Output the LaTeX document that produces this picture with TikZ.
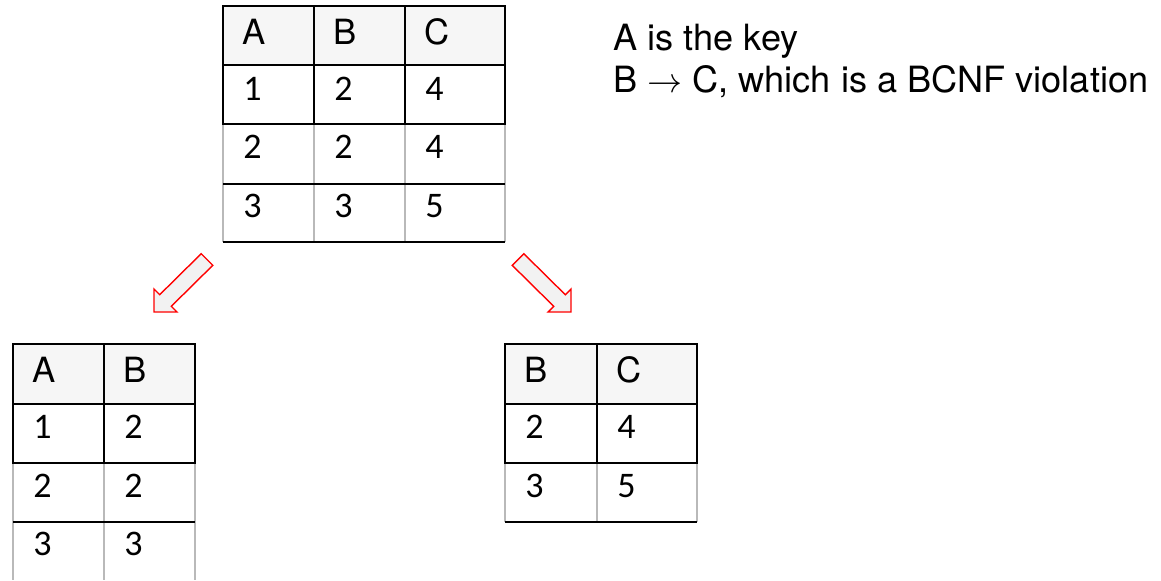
\documentclass[tikz,border=0pt]{standalone}
\usepackage{fontspec}
\usepackage{tikz}
\newfontfamily\heros{TeX Gyre Heros}
\newfontfamily\carlito{Carlito}

\begin{document}
\begin{tikzpicture}[
        x=0.025cm, y=-0.025cm,
        hdr/.style={font=\heros\fontsize{24.7}{28}\selectfont, anchor=base west, inner sep=0pt},
        val/.style={font=\carlito\fontsize{25.6}{30}\selectfont, anchor=base west, inner sep=0pt},
        note/.style={font=\heros\fontsize{25.7}{30}\selectfont, anchor=base west, inner sep=0pt},
        rule/.style={line width=1.4pt, black},
        faint/.style={line width=1.2pt, gray!55},
        blockarrow/.style={draw=red, fill=gray!10, line width=1pt, line join=miter}
    ]
        \useasboundingbox (0,0) rectangle (1161,580);

        % Relation R(A,B,C)
        \fill[gray!7] (223,6) rectangle (505,65);
        \foreach \x in {223, 314, 405, 505} {
            \draw[faint] (\x,124) -- (\x,242);
        }
        \draw[rule] (223,6) rectangle (505,124);
        \draw[rule] (223,65) -- (505,65);
        \draw[rule] (314,6) -- (314,124) (405,6) -- (405,124);
        \draw[rule] (223,184) -- (505,184) (223,242) -- (505,242);

        \foreach \col/\x in {A/223, B/314, C/405} {
            \node[hdr] (top\col) at (\x+19, 44) {\col};
        }
        \foreach \r/\y/\a/\b/\c in {1/100/1/2/4, 2/158/2/2/4, 3/217/3/3/5} {
            \node[val] (top\r a) at (243, \y) {\a};
            \node[val] (top\r b) at (334, \y) {\b};
            \node[val] (top\r c) at (425, \y) {\c};
        }

        % Note on the key and the dependency
        \node[note] (keynote) at (613, 50) {A is the key};
        \node[note] (fdnote) at (613, 92) {B $\rightarrow$ C, which is a BCNF violation};

        % Decomposition arrows
        \draw[blockarrow] (201.2,253.7) -- (212.8,265.3) -- (171.3,306.3) -- (177,312)
            -- (154,312) -- (154,289) -- (159.7,294.7) -- cycle;
        \draw[blockarrow] (523.8,253.7) -- (512.2,265.3) -- (553.7,306.3) -- (548,312)
            -- (571,312) -- (571,289) -- (565.3,294.7) -- cycle;

        % Relation R1(A,B)
        \fill[gray!7] (13,344) rectangle (195,404);
        \foreach \x in {13, 104, 195} {
            \draw[faint] (\x,463) -- (\x,580);
        }
        \draw[rule] (13,344) rectangle (195,463);
        \draw[rule] (13,404) -- (195,404) (104,344) -- (104,463);
        \draw[rule] (13,522) -- (195,522);

        \foreach \col/\x in {A/13, B/104} {
            \node[hdr] (left\col) at (\x+19, 382) {\col};
        }
        \foreach \r/\y/\a/\b in {1/438/1/2, 2/497/2/2, 3/555/3/3} {
            \node[val] (left\r a) at (33, \y) {\a};
            \node[val] (left\r b) at (124, \y) {\b};
        }

        % Relation R2(B,C)
        \fill[gray!7] (505,344) rectangle (697,404);
        \foreach \x in {505, 597, 697} {
            \draw[faint] (\x,463) -- (\x,522);
        }
        \draw[rule] (505,344) rectangle (697,463);
        \draw[rule] (505,404) -- (697,404) (597,344) -- (597,463);
        \draw[rule] (505,522) -- (697,522);

        \foreach \col/\x in {B/505, C/597} {
            \node[hdr] (right\col) at (\x+19, 382) {\col};
        }
        \foreach \r/\y/\b/\c in {1/438/2/4, 2/497/3/5} {
            \node[val] (right\r b) at (525, \y) {\b};
            \node[val] (right\r c) at (617, \y) {\c};
        }
    \end{tikzpicture}
\end{document}
